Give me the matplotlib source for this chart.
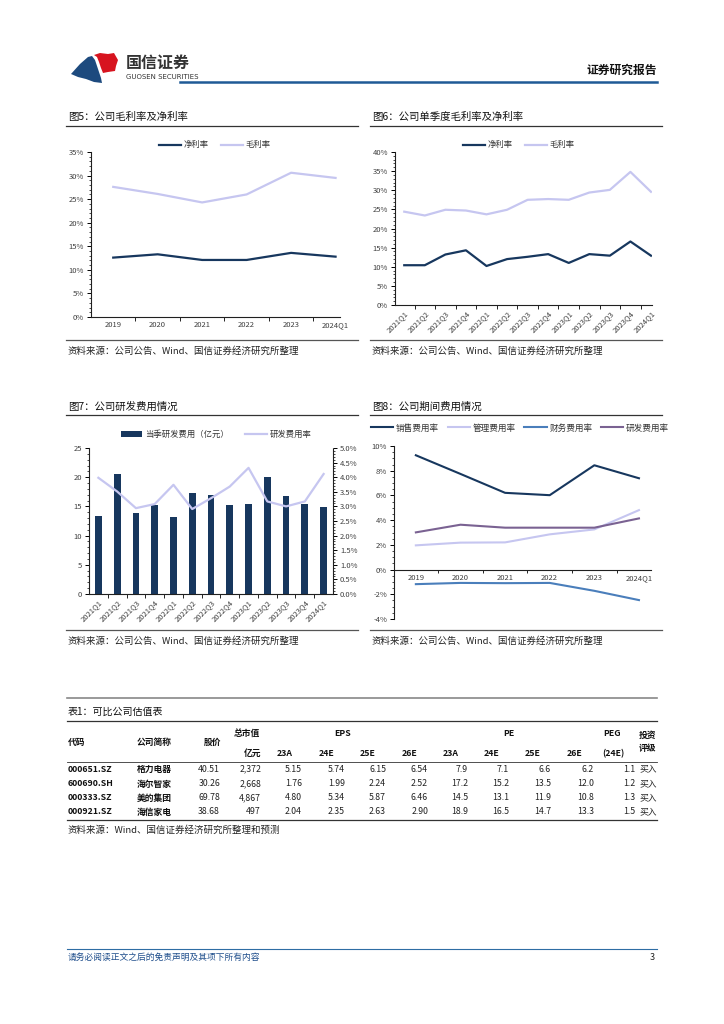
import matplotlib
matplotlib.use("Agg")
import matplotlib.pyplot as plt
from matplotlib.patches import Polygon
from matplotlib.lines import Line2D
from matplotlib.ticker import FuncFormatter, MultipleLocator, FixedLocator

plt.rcParams['font.family'] = ['Noto Sans CJK SC', 'DejaVu Sans']
plt.rcParams['axes.unicode_minus'] = False

# ---- data ----
years = ['2019', '2020', '2021', '2022', '2023', '2024Q1']
net_margin_y = [12.6, 13.3, 12.1, 12.1, 13.6, 12.8]
gross_margin_y = [27.6, 26.1, 24.3, 26.0, 30.6, 29.5]

quarters = ['2021Q1', '2021Q2', '2021Q3', '2021Q4', '2022Q1', '2022Q2', '2022Q3',
            '2022Q4', '2023Q1', '2023Q2', '2023Q3', '2023Q4', '2024Q1']
net_margin_q = [10.4, 10.4, 13.2, 14.3, 10.2, 12.0, 12.6, 13.3, 11.0, 13.3, 12.9, 16.6, 12.9]
gross_margin_q = [24.4, 23.4, 24.9, 24.7, 23.7, 24.9, 27.5, 27.7, 27.5, 29.4, 30.1, 34.8, 29.6]

rd_expense = [13.4, 20.6, 13.9, 15.3, 13.2, 17.3, 17.0, 15.2, 15.4, 20.1, 16.8, 15.4, 14.9]
rd_ratio_q = [3.98, 3.51, 2.94, 3.08, 3.74, 2.91, 3.28, 3.68, 4.32, 3.17, 3.00, 3.17, 4.11]

sales_ratio = [9.25, 7.74, 6.21, 6.02, 8.44, 7.39]
admin_ratio = [1.96, 2.18, 2.20, 2.85, 3.25, 4.81]
fin_ratio = [-1.18, -1.08, -1.10, -1.08, -1.72, -2.47]
rd_ratio_y = [3.01, 3.63, 3.39, 3.39, 3.39, 4.14]

codes = ['000651.SZ', '600690.SH', '000333.SZ', '000921.SZ']
names = ['格力电器', '海尔智家', '美的集团', '海信家电']
prices = ['40.51', '30.26', '69.78', '38.68']
mkt_cap = ['2,372', '2,668', '4,867', '497']
eps = [['5.15', '5.74', '6.15', '6.54'],
       ['1.76', '1.99', '2.24', '2.52'],
       ['4.80', '5.34', '5.87', '6.46'],
       ['2.04', '2.35', '2.63', '2.90']]
pe = [['7.9', '7.1', '6.6', '6.2'],
      ['17.2', '15.2', '13.5', '12.0'],
      ['14.5', '13.1', '11.9', '10.8'],
      ['18.9', '16.5', '14.7', '13.3']]
peg = ['1.1', '1.2', '1.3', '1.5']
rating = ['买入', '买入', '买入', '买入']
sub_heads = ['23A', '24E', '25E', '26E', '23A', '24E', '25E', '26E']

NAVY = '#17375e'
LAV = '#c6c6f0'
BLUE = '#4a7ebb'
PURP = '#7a6292'
TICK = '#404040'
SRC = '资料来源：公司公告、Wind、国信证券经济研究所整理'

W, H = 724, 1024
fig = plt.figure(figsize=(7.24, 10.24), dpi=100)


def px_ax(l, t, r, b):
    return fig.add_axes([l / W, 1 - b / H, (r - l) / W, (b - t) / H])


def ftext(x, y, s, **kw):
    kw.setdefault('va', 'center')
    fig.text(x / W, 1 - y / H, s, **kw)


def hline(x0, x1, y, color='#333333', lw=0.8):
    fig.add_artist(Line2D([x0 / W, x1 / W], [1 - y / H, 1 - y / H], color=color,
                          lw=lw, transform=fig.transFigure))


def style(ax, ymaj, ymin, fmt, n):
    for s in ['top', 'right']:
        ax.spines[s].set_visible(False)
    for s in ['left', 'bottom']:
        ax.spines[s].set_color('#202020')
        ax.spines[s].set_linewidth(0.8)
    ax.yaxis.set_major_locator(MultipleLocator(ymaj))
    ax.yaxis.set_minor_locator(MultipleLocator(ymin))
    ax.yaxis.set_major_formatter(FuncFormatter(fmt))
    ax.set_xticks(range(n))
    ax.xaxis.set_minor_locator(FixedLocator([i + 0.5 for i in range(n - 1)]))
    ax.tick_params(axis='y', which='major', length=3, width=0.7, labelsize=5.5,
                   labelcolor=TICK, pad=2)
    ax.tick_params(axis='y', which='minor', length=1.5, width=0.5)
    ax.tick_params(axis='x', which='major', length=0, labelsize=5.5, labelcolor=TICK, pad=3)
    ax.tick_params(axis='x', which='minor', length=3, width=0.6)


def legend(ax, x, y, ncol, fs=6, cs=1.5):
    ax.legend(loc='center', bbox_to_anchor=(x / W, 1 - y / H), bbox_transform=fig.transFigure,
              ncol=ncol, frameon=False, fontsize=fs, handlelength=2.6, columnspacing=cs,
              handletextpad=0.3, labelcolor='#333333')


pct = lambda v, p: f'{v:.0f}%'

# ---- header ----
ax_logo = fig.add_axes([0, 0, 1, 1], facecolor='none')
ax_logo.set_xlim(0, W)
ax_logo.set_ylim(H, 0)
ax_logo.axis('off')
ax_logo.add_patch(Polygon([(71, 74), (80, 64), (88, 57), (92, 56), (95, 60), (97, 66),
                           (99, 72), (101, 78), (102, 83), (94, 82), (86, 79), (78, 77)],
                          color='#1d4a7e', lw=0))
ax_logo.add_patch(Polygon([(94, 55), (100, 53), (108, 54), (114, 53), (118, 60), (116, 66),
                           (115, 71), (108, 72), (103, 73), (101, 68), (99, 62), (97, 57)],
                          color='#d7141f', lw=0))
ftext(126, 63, '国信证券', fontsize=11.5, color='#333333', fontweight='bold')
ftext(126, 77, 'GUOSEN SECURITIES', fontsize=5, color='#333333', family=['DejaVu Sans'])
hline(180, 657, 82, color='#1f5a96', lw=1.8)
ftext(657, 70, '证券研究报告', fontsize=8.5, fontweight='bold', ha='right', color='#111111')

# ---- chart 5 ----
ftext(68, 117, '图5：公司毛利率及净利率', fontsize=7.5, color='#111111')
hline(66, 358, 126, lw=0.9)
ax5 = px_ax(91, 152, 340, 317)
x = range(len(years))
ax5.plot(x, net_margin_y, color=NAVY, lw=1.6, label='净利率')
ax5.plot(x, gross_margin_y, color=LAV, lw=1.6, label='毛利率')
ax5.set_ylim(0, 35)
ax5.set_xlim(-0.5, 5.1)
style(ax5, 5, 1, pct, len(years))
ax5.set_xticklabels(years)
legend(ax5, 215, 145, 2)
hline(66, 358, 340, color='#555555', lw=0.9)
ftext(68, 351, SRC, fontsize=6.8, color='#222222')

# ---- chart 6 ----
ftext(372, 117, '图6：公司单季度毛利率及净利率', fontsize=7.5, color='#111111')
hline(370, 662, 126, lw=0.9)
ax6 = px_ax(395, 152, 652, 305)
xq = range(len(quarters))
ax6.plot(xq, net_margin_q, color=NAVY, lw=1.6, label='净利率')
ax6.plot(xq, gross_margin_q, color=LAV, lw=1.6, label='毛利率')
ax6.set_ylim(0, 40)
ax6.set_xlim(-0.45, 12.05)
style(ax6, 5, 1, pct, len(quarters))
ax6.set_xticklabels(quarters, rotation=45, ha='right', rotation_mode='anchor')
legend(ax6, 519, 145, 2)
hline(370, 662, 340, color='#555555', lw=0.9)
ftext(372, 351, SRC, fontsize=6.8, color='#222222')

# ---- chart 7 ----
ftext(68, 407, '图7：公司研发费用情况', fontsize=7.5, color='#111111')
hline(66, 358, 415, lw=0.9)
ax7 = px_ax(89, 448, 333, 594)
ax7.bar(xq, rd_expense, width=0.36, color=NAVY, label='当季研发费用（亿元）')
ax7.set_ylim(0, 25)
ax7.set_xlim(-0.5, 12.5)
style(ax7, 5, 1, lambda v, p: f'{v:.0f}', len(quarters))
ax7.set_xticklabels(quarters, rotation=45, ha='right', rotation_mode='anchor')
ax7r = ax7.twinx()
ax7r.plot(xq, rd_ratio_q, color=LAV, lw=1.6, label='研发费用率')
ax7r.set_ylim(0, 5)
for s in ['top', 'left', 'bottom']:
    ax7r.spines[s].set_visible(False)
ax7r.spines['right'].set_color('#202020')
ax7r.spines['right'].set_linestyle((0, (1, 1)))
ax7r.yaxis.set_major_locator(MultipleLocator(0.5))
ax7r.yaxis.set_minor_locator(MultipleLocator(0.1))
ax7r.yaxis.set_major_formatter(FuncFormatter(lambda v, p: f'{v:.1f}%'))
ax7r.tick_params(axis='y', which='major', length=3, width=0.7, labelsize=5.5,
                 labelcolor=TICK, pad=2)
ax7r.tick_params(axis='y', which='minor', length=1.5, width=0.5)
h1, l1 = ax7.get_legend_handles_labels()
h2, l2 = ax7r.get_legend_handles_labels()
ax7r.legend(h1 + h2, l1 + l2, loc='center', bbox_to_anchor=(216 / W, 1 - 434 / H),
            bbox_transform=fig.transFigure, ncol=2, frameon=False, fontsize=6,
            handlelength=2.6, columnspacing=2.0, handletextpad=0.3, labelcolor='#333333')
hline(66, 358, 630, color='#555555', lw=0.9)
ftext(68, 641, SRC, fontsize=6.8, color='#222222')

# ---- chart 8 ----
ftext(372, 407, '图8：公司期间费用情况', fontsize=7.5, color='#111111')
hline(370, 662, 415, lw=0.9)
ax8 = px_ax(394, 446, 651, 619)
ax8.plot(x, sales_ratio, color=NAVY, lw=1.5, label='销售费用率')
ax8.plot(x, admin_ratio, color=LAV, lw=1.5, label='管理费用率')
ax8.plot(x, fin_ratio, color=BLUE, lw=1.5, label='财务费用率')
ax8.plot(x, rd_ratio_y, color=PURP, lw=1.5, label='研发费用率')
ax8.set_ylim(-4, 10)
ax8.set_xlim(-0.49, 5.27)
style(ax8, 2, 0.5, pct, len(years))
ax8.spines['bottom'].set_position(('data', 0))
ax8.set_xticklabels(years)
ax8.tick_params(axis='x', which='minor', length=2)
legend(ax8, 520, 428, 4, fs=6.2, cs=1.0)
hline(370, 662, 630, color='#555555', lw=0.9)
ftext(372, 641, SRC, fontsize=6.8, color='#222222')

# ---- table ----
hline(67, 657, 698, color='#888888', lw=1.2)
ftext(68, 712, '表1：可比公司估值表', fontsize=7.2, color='#111111')
hline(67, 657, 721, color='#333333', lw=0.9)
hb = dict(fontsize=6.3, fontweight='bold', color='#111111')
ftext(68, 742, '代码', **hb)
ftext(137, 742, '公司简称', **hb)
ftext(221, 742, '股价', ha='right', **hb)
ftext(247, 733, '总市值', ha='center', **hb)
ftext(261, 753, '亿元', ha='right', **hb)
ftext(343, 733, 'EPS', ha='center', **hb)
ftext(509, 733, 'PE', ha='center', **hb)
ftext(612, 733, 'PEG', ha='center', **hb)
ftext(613, 754, '(24E)', ha='center', **hb)
ftext(639, 735, '投资', **hb)
ftext(639, 748, '评级', **hb)
sub_x = [277, 319, 360, 402, 443, 484, 525, 567]
for sx, sh in zip(sub_x, sub_heads):
    ftext(sx, 754, sh, **hb)
hline(67, 657, 762, color='#333333', lw=0.6)

row_y = [769, 784, 798, 812]
eps_x = [302, 345, 386, 428]
pe_x = [468, 509, 551, 594]
dn = dict(fontsize=6.3, color='#222222', ha='right')
for i, ry in enumerate(row_y):
    ftext(68, ry, codes[i], **hb)
    ftext(137, ry, names[i], **hb)
    ftext(220, ry, prices[i], **dn)
    ftext(261, ry, mkt_cap[i], **dn)
    for xx, v in zip(eps_x, eps[i]):
        ftext(xx, ry, v, **dn)
    for xx, v in zip(pe_x, pe[i]):
        ftext(xx, ry, v, **dn)
    ftext(635, ry, peg[i], **dn)
    ftext(639, ry, rating[i], fontsize=6.3, color='#222222')
hline(67, 657, 820, color='#333333', lw=0.9)
ftext(68, 830, '资料来源：Wind、国信证券经济研究所整理和预测', fontsize=6.8, color='#222222')

# ---- footer ----
hline(67, 657, 949, color='#2e6da4', lw=0.8)
ftext(68, 957, '请务必阅读正文之后的免责声明及其项下所有内容', fontsize=6.3,
      color='#1f4e8c', style='italic')
ftext(655, 958, '3', fontsize=6.5, ha='right', color='#222222')

fig.savefig('out.png', dpi=100)
